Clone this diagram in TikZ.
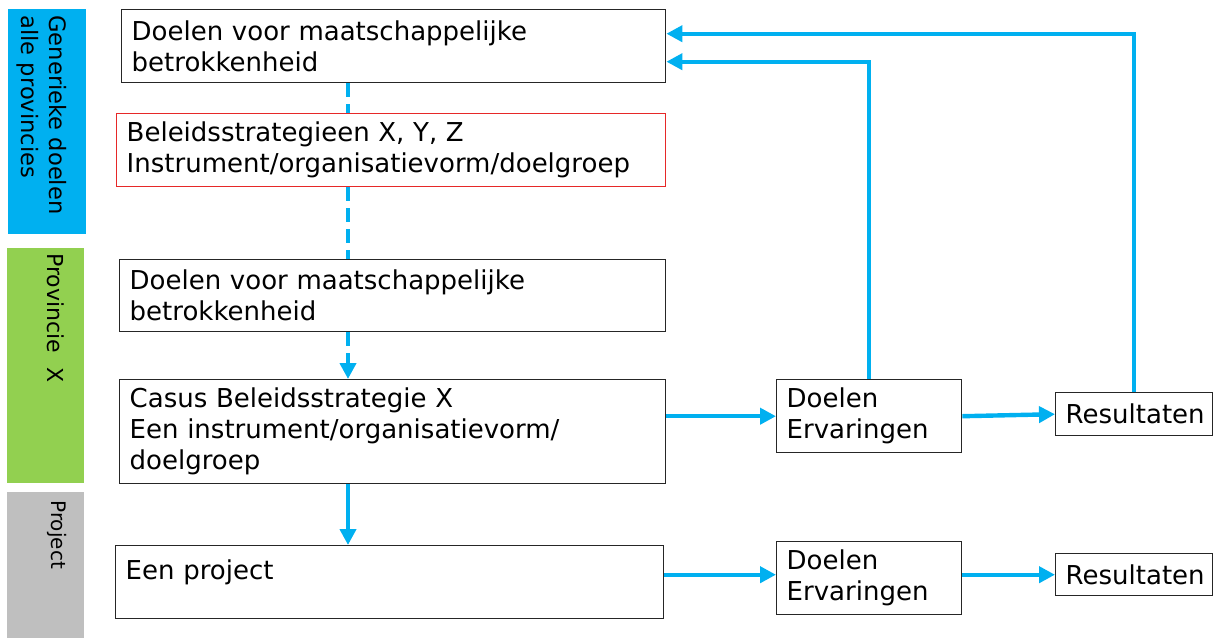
\documentclass[tikz,border=0pt]{standalone}
\usepackage{fontspec}
\setmainfont{DejaVu Sans}
\usetikzlibrary{positioning,arrows.meta,calc}
\definecolor{flowblue}{RGB}{0,176,240}
\definecolor{provgreen}{RGB}{146,208,80}
\definecolor{projgray}{RGB}{191,191,191}
\definecolor{stratred}{RGB}{230,40,40}

\begin{document}
\begin{tikzpicture}[
    x=0.5pt, y=-0.5pt,
    box/.style={rectangle, draw=black!85, line width=0.7pt, fill=white, anchor=north west, align=left, inner xsep=5pt, inner ysep=0pt, font=\fontsize{13}{15.5}\selectfont},
    bar/.style={rectangle, anchor=north west, inner sep=0pt},
    barlabel/.style={rotate=-90, anchor=north west, inner sep=0pt, align=left},
    flow/.style={-{Triangle[length=8pt,width=8pt]}, line width=2.2pt, flowblue},
    dashflow/.style={line width=2.2pt, flowblue, dash pattern=on 7pt off 3.5pt}
]
    \useasboundingbox (0,0) rectangle (1213,638);

    % Generic layer
    \node [bar, fill=flowblue, minimum width=39pt, minimum height=112.5pt] (generic) at (8,9) {};
    \node [barlabel, font=\fontsize{11.3}{14}\selectfont] (genericlabel) at (67,15) {Generieke doelen\\alle provincies};
    \node [box, text width=262pt, minimum height=36.5pt] (goals) at (121,9) {Doelen voor maatschappelijke\\betrokkenheid};
    \node [box, draw=stratred, text width=264.5pt, minimum height=36.5pt] (strategies) at (116,113) {Beleidsstrategieen X, Y, Z\\Instrument/organisatievorm/doelgroep};

    % Province layer
    \node [bar, fill=provgreen, minimum width=38.5pt, minimum height=117.5pt] (province) at (7,248) {};
    \node [barlabel, font=\fontsize{11}{14}\selectfont] (provincelabel) at (65,253) {Provincie\ \ X};
    \node [box, text width=263pt, minimum height=36pt] (provgoals) at (119,259) {Doelen voor maatschappelijke\\betrokkenheid};
    \node [box, text width=263pt, minimum height=52pt] (casus) at (119,379) {Casus Beleidsstrategie X\\Een instrument/organisatievorm/\\doelgroep};
    \node [box, text width=82.5pt, minimum height=36.5pt] (casusgoals) at (776,379) {Doelen\\Ervaringen};
    \node [box, text width=68.5pt, minimum height=21.5pt] (casusresults) at (1055,392) {Resultaten};

    % Project layer
    \node [bar, fill=projgray, minimum width=38.5pt, minimum height=73pt] (project) at (7,492) {};
    \node [barlabel, font=\fontsize{10}{12}\selectfont] (projectlabel) at (67,500) {Project};
    \node [box, text width=264pt, minimum height=36.5pt] (oneproject) at (115,545) {\rule{0pt}{14pt}Een project\\[-3pt]\strut};
    \node [box, text width=82.5pt, minimum height=36.5pt] (projgoals) at (776,541) {Doelen\\Ervaringen};
    \node [box, text width=68.5pt, minimum height=21pt] (projresults) at (1055,553) {Resultaten};

    \coordinate (spine) at (348,0);

    % Top-down path
    \draw [dashflow] (goals.south -| spine) -- (strategies.north -| spine);
    \draw [dashflow] (strategies.south -| spine) -- (provgoals.north -| spine);
    \draw [dashflow, -{Triangle[length=8pt,width=8pt]}] (provgoals.south -| spine) -- (casus.north -| spine);
    \draw [flow] (casus.south -| spine) -- (oneproject.north -| spine);

    % Left to right
    \draw [flow] (casusgoals.west -| casus.east) -- (casusgoals.west);
    \draw [flow] (casusgoals.east) -- (casusresults.west);
    \draw [flow] (projresults.west -| oneproject.east) -- (projresults.west -| projgoals.west);
    \draw [flow] (projresults.west -| projgoals.east) -- (projresults.west);

    % Feedback
    \draw [flow] (casusgoals.north) |- ([yshift=-7.75pt]goals.east);
    \draw [flow] (casusresults.north) |- ([yshift=6.25pt]goals.east);
\end{tikzpicture}
\end{document}
